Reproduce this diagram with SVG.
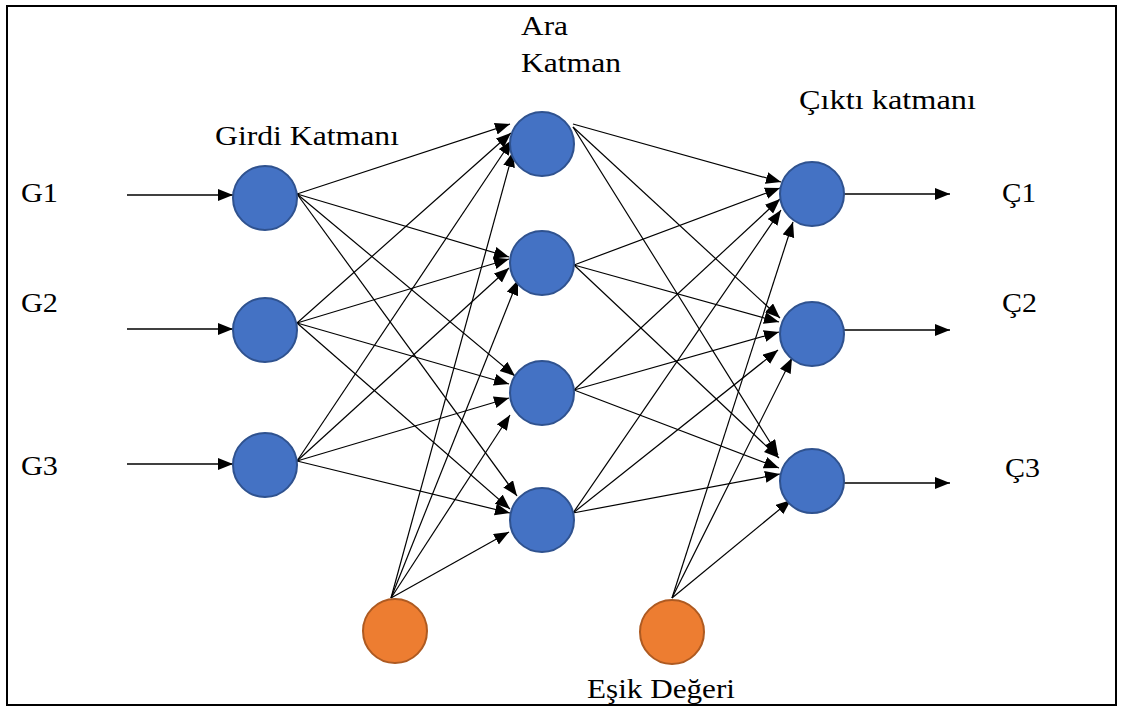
<svg xmlns="http://www.w3.org/2000/svg" width="1123" height="710" viewBox="0 0 1123 710">
<defs>
<marker id="ah" markerUnits="userSpaceOnUse" markerWidth="16" markerHeight="13" refX="15" refY="6" orient="auto">
<path d="M0,0 L15,6 L0,12 z" fill="#000"/>
</marker>
<style>
.bg{fill:#fff}
.frame{fill:none;stroke:#000;stroke-width:2}
.blue{fill:#4472C4;stroke:#2F528F;stroke-width:2}
.orange{fill:#ED7D31;stroke:#AE5A21;stroke-width:2}
.c line{stroke:#000;stroke-width:1.2;marker-end:url(#ah)}
.c line.io{stroke-width:1.5}
text{font-family:"Liberation Serif","Times New Roman",serif;font-size:28px;fill:#000}
</style>
</defs>
<rect class="bg" x="0" y="0" width="1123" height="710"/>
<rect class="frame" x="7" y="6" width="1109" height="699"/>

<g id="connectors" class="c">
<line class="io" x1="127" y1="195" x2="233" y2="195"/>
<line class="io" x1="127" y1="329" x2="233" y2="329"/>
<line class="io" x1="127" y1="464" x2="233" y2="464"/>
<line x1="297" y1="194" x2="510" y2="124"/>
<line x1="297" y1="194" x2="509" y2="257"/>
<line x1="297" y1="194" x2="515" y2="376"/>
<line x1="297" y1="194" x2="517" y2="496"/>
<line x1="297" y1="323" x2="511" y2="133"/>
<line x1="297" y1="323" x2="509" y2="259"/>
<line x1="297" y1="323" x2="509" y2="384"/>
<line x1="297" y1="323" x2="510" y2="509"/>
<line x1="297" y1="461" x2="512" y2="140"/>
<line x1="297" y1="461" x2="509" y2="268"/>
<line x1="297" y1="461" x2="509" y2="398"/>
<line x1="297" y1="461" x2="510" y2="513"/>
<line x1="391" y1="598" x2="513" y2="152"/>
<line x1="391" y1="598" x2="518" y2="280"/>
<line x1="391" y1="598" x2="510" y2="415"/>
<line x1="391" y1="598" x2="509" y2="532"/>
<line x1="573" y1="124" x2="781" y2="182"/>
<line x1="573" y1="127" x2="780" y2="318"/>
<line x1="573" y1="127" x2="778" y2="455"/>
<line x1="574" y1="265" x2="780" y2="188"/>
<line x1="574" y1="265" x2="779" y2="322"/>
<line x1="574" y1="265" x2="779" y2="458"/>
<line x1="574" y1="390" x2="780" y2="199"/>
<line x1="574" y1="390" x2="779" y2="332"/>
<line x1="574" y1="390" x2="779" y2="468"/>
<line x1="573" y1="513" x2="781" y2="210"/>
<line x1="573" y1="513" x2="778" y2="350"/>
<line x1="573" y1="513" x2="780" y2="474"/>
<line x1="672" y1="598" x2="793" y2="222"/>
<line x1="672" y1="598" x2="792" y2="358"/>
<line x1="672" y1="598" x2="791" y2="500"/>
<line class="io" x1="844" y1="194" x2="950" y2="194"/>
<line class="io" x1="844" y1="330" x2="950" y2="330"/>
<line class="io" x1="844" y1="483" x2="950" y2="483"/>
</g>

<g id="in1"><circle class="blue" cx="265" cy="198" r="32"/></g>
<g id="in2"><circle class="blue" cx="265" cy="330" r="32"/></g>
<g id="in3"><circle class="blue" cx="265" cy="465" r="32"/></g>
<g id="h1"><circle class="blue" cx="542" cy="144" r="32"/></g>
<g id="h2"><circle class="blue" cx="542" cy="263" r="32"/></g>
<g id="h3"><circle class="blue" cx="542" cy="393" r="32"/></g>
<g id="h4"><circle class="blue" cx="542" cy="520" r="32"/></g>
<g id="out1"><circle class="blue" cx="812" cy="194" r="32"/></g>
<g id="out2"><circle class="blue" cx="812" cy="334" r="32"/></g>
<g id="out3"><circle class="blue" cx="812" cy="481" r="32"/></g>
<g id="bias1"><circle class="orange" cx="395" cy="631" r="32"/></g>
<g id="bias2"><circle class="orange" cx="672" cy="632" r="32"/></g>

<g id="labels">
<text x="21" y="202" textLength="37" lengthAdjust="spacingAndGlyphs">G1</text>
<text x="21" y="312" textLength="37" lengthAdjust="spacingAndGlyphs">G2</text>
<text x="21" y="475" textLength="37" lengthAdjust="spacingAndGlyphs">G3</text>
<text x="215" y="145" textLength="184" lengthAdjust="spacingAndGlyphs">Girdi Katmanı</text>
<text x="521" y="35" textLength="47" lengthAdjust="spacingAndGlyphs">Ara</text>
<text x="521" y="72" textLength="100" lengthAdjust="spacingAndGlyphs">Katman</text>
<text x="799" y="109" textLength="177" lengthAdjust="spacingAndGlyphs">Çıktı katmanı</text>
<text x="1002" y="202" textLength="34" lengthAdjust="spacingAndGlyphs">Ç1</text>
<text x="1002" y="312" textLength="35" lengthAdjust="spacingAndGlyphs">Ç2</text>
<text x="1005" y="477" textLength="35" lengthAdjust="spacingAndGlyphs">Ç3</text>
<text x="587" y="698" textLength="148" lengthAdjust="spacingAndGlyphs">Eşik Değeri</text>
</g>
</svg>
